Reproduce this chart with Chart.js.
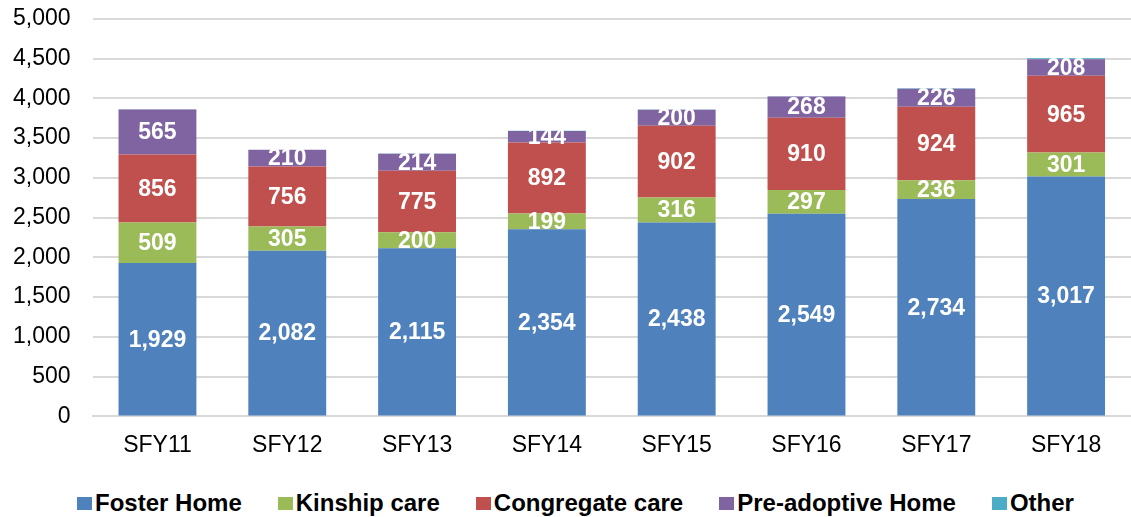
<!DOCTYPE html>
<html>
<head>
<meta charset="utf-8">
<script src="https://cdn.jsdelivr.net/npm/chart.js@4/dist/chart.umd.min.js"></script>
<style>
  body { margin: 0; background: #fff; }
  #pagina { position: relative; width: 1131px; height: 517px; overflow: hidden; }
  #wrap { position: absolute; left: -21px; top: -17px; width: 1152px; height: 483px; }
  #legenda {
    position: absolute; left: 20px; top: 488px; width: 1111px; height: 30px;
    display: flex; justify-content: center; align-items: center;
    font-family: "Liberation Sans", Arial, sans-serif; font-weight: bold; font-size: 24px; color: #000;
  }
  .item { display: flex; align-items: center; margin: 0 18px; }
  .caixa { width: 15px; height: 13px; margin-right: 3px; }
</style>
</head>
<body>
<div id="pagina">
  <div id="wrap"><canvas id="grafico"></canvas></div>
  <div id="legenda"></div>
</div>
<script>
var anos = ['SFY11', 'SFY12', 'SFY13', 'SFY14', 'SFY15', 'SFY16', 'SFY17', 'SFY18'];
var fosterHome = [1929, 2082, 2115, 2354, 2438, 2549, 2734, 3017];
var kinshipCare = [509, 305, 200, 199, 316, 297, 236, 301];
var congregateCare = [856, 756, 775, 892, 902, 910, 924, 965];
var preAdoptive = [565, 210, 214, 144, 200, 268, 226, 208];
var outros = [2, 1, 2, 3, 3, 3, 8, 14];

var fonte = '"Liberation Sans", Arial, sans-serif';

// rotulos brancos no meio de cada barra (menos "Other")
var rotulosBarras = {
    id: 'rotulosBarras',
    afterDatasetsDraw: function(chart) {
        var ctx = chart.ctx;
        ctx.save();
        ctx.fillStyle = '#ffffff';
        ctx.font = 'bold 23px ' + fonte;
        ctx.textAlign = 'center';
        ctx.textBaseline = 'middle';
        chart.data.datasets.forEach(function(ds, i) {
            if (ds.label == 'Other') return;
            var meta = chart.getDatasetMeta(i);
            meta.data.forEach(function(bar, j) {
                var texto = ds.data[j].toLocaleString('en-US');
                ctx.fillText(texto, bar.x, (bar.y + bar.base) / 2 + 1);
            });
        });
        ctx.restore();
    }
};

function criarSerie(nome, valores, cor) {
    return {
        label: nome,
        data: valores,
        backgroundColor: cor,
        borderWidth: 0,
        barPercentage: 0.6,
        categoryPercentage: 1.0
    };
}

var config = {
    type: 'bar',
    data: {
        labels: anos,
        datasets: [
            criarSerie('Foster Home', fosterHome, '#4F81BD'),
            criarSerie('Kinship care', kinshipCare, '#9BBB59'),
            criarSerie('Congregate care', congregateCare, '#C0504D'),
            criarSerie('Pre-adoptive Home', preAdoptive, '#8064A2'),
            criarSerie('Other', outros, '#4BACC6')
        ]
    },
    options: {
        responsive: true,
        maintainAspectRatio: false,
        animation: false,
        layout: { padding: { top: 3, right: 0, left: 12, bottom: 0 } },
        plugins: {
            tooltip: { enabled: false },
            legend: { display: false }
        },
        scales: {
            x: {
                stacked: true,
                grid: { display: false },
                border: { color: '#d9d9d9', width: 2 },
                ticks: { color: '#000', padding: 7, font: { family: fonte, size: 23 } }
            },
            y: {
                stacked: true,
                min: 0,
                max: 5000,
                ticks: {
                    stepSize: 500,
                    color: '#000',
                    padding: 22,
                    font: { family: fonte, size: 23 },
                    callback: function(v) { return v.toLocaleString('en-US'); }
                },
                grid: { color: '#d9d9d9', lineWidth: 2, drawTicks: false },
                border: { display: false }
            }
        }
    },
    plugins: [rotulosBarras]
};

var grafico = new Chart(document.getElementById('grafico'), config);

// legenda em html, montada a partir das series
var legenda = document.getElementById('legenda');
grafico.data.datasets.forEach(function(ds) {
    var item = document.createElement('div');
    item.className = 'item';
    var caixa = document.createElement('span');
    caixa.className = 'caixa';
    caixa.style.background = ds.backgroundColor;
    var texto = document.createElement('span');
    texto.textContent = ds.label;
    item.appendChild(caixa);
    item.appendChild(texto);
    legenda.appendChild(item);
});
</script>
</body>
</html>
